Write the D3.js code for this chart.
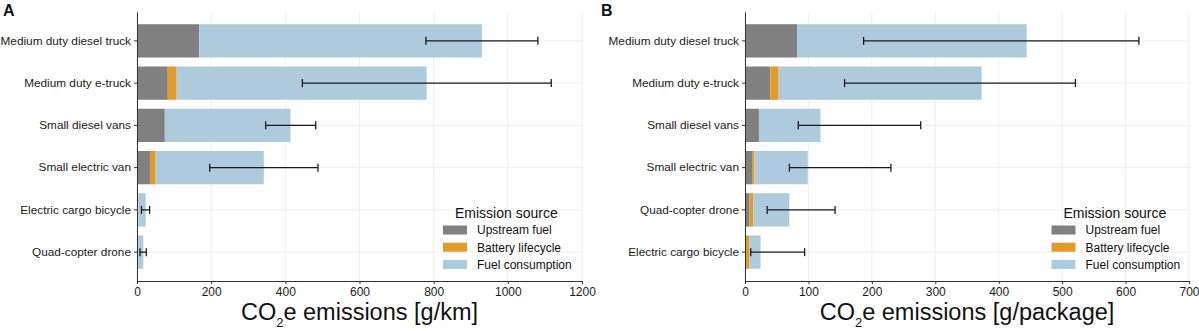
<!DOCTYPE html>
<html>
<head>
<meta charset="utf-8">
<script src="https://cdn.jsdelivr.net/npm/d3@7/dist/d3.min.js"></script>
<style>
  html, body { margin: 0; padding: 0; background: #fff; }
  svg { display: block; font-family: "Liberation Sans", Arial, Helvetica, sans-serif; }
</style>
</head>
<body>
<svg id="chart" width="1199" height="331"></svg>
<script>
// ---- Data ----
const seriesNames = ["Upstream fuel", "Battery lifecycle", "Fuel consumption"];
const seriesColors = ["#808080", "#E29B27", "#AECBDD"];

// Panel A: g/km
const categoriesA = ["Medium duty diesel truck", "Medium duty e-truck", "Small diesel vans",
                     "Small electric van", "Electric cargo bicycle", "Quad-copter drone"];
const upstreamA = [168, 83, 75, 35, 0.5, 0.5];
const batteryA  = [0, 24, 0, 15, 3, 0.5];
const fuelA     = [762, 674, 339, 292, 20, 16];
const errLowA   = [779, 446, 347, 196, 12, 8];
const errHighA  = [1081, 1117, 482, 488, 34, 25];
const ticksA    = [0, 200, 400, 600, 800, 1000, 1200];

// Panel B: g/package
const categoriesB = ["Medium duty diesel truck", "Medium duty e-truck", "Small diesel vans",
                     "Small electric van", "Quad-copter drone", "Electric cargo bicycle"];
const upstreamB = [82, 40, 22, 11, 7, 1.5];
const batteryB  = [0, 13, 0, 4, 6, 5];
const fuelB     = [362, 320, 97, 84, 57, 18];
const errLowB   = [187, 157, 84, 70, 35, 9];
const errHighB  = [621, 521, 277, 230, 142, 94];
const ticksB    = [0, 100, 200, 300, 400, 500, 600, 700];

const svg = d3.select("#chart");

function drawPanel(opts) {
  const { label, labelX, categories, up, bat, fuel, lo, hi, ticks, xMax,
          x0, x1, unit, legendX } = opts;
  const top = 12, bottom = 281;
  const g = svg.append("g");

  const x = d3.scaleLinear().domain([0, xMax]).range([x0, x1]);
  const y = d3.scaleBand().domain(categories).range([top, bottom])
              .paddingInner(0.212).paddingOuter(0.289);

  // gridlines
  g.append("g").selectAll("line.vg").data(ticks).join("line")
    .attr("x1", d => x(d)).attr("x2", d => x(d))
    .attr("y1", top).attr("y2", bottom)
    .attr("stroke", "#ebebeb").attr("stroke-width", 0.8);
  g.append("g").selectAll("line.hg").data(categories).join("line")
    .attr("x1", x0).attr("x2", x1 + 1)
    .attr("y1", d => y(d) + y.bandwidth() / 2).attr("y2", d => y(d) + y.bandwidth() / 2)
    .attr("stroke", "#ebebeb").attr("stroke-width", 0.8);

  // stacked data
  const rows = categories.map((c, i) => ({ cat: c, up: up[i], bat: bat[i], fuel: fuel[i] }));
  const stack = d3.stack().keys(["up", "bat", "fuel"])(rows);
  stack.forEach((layer, li) => {
    g.append("g").selectAll("rect").data(layer).join("rect")
      .attr("x", d => x(d[0]))
      .attr("width", d => Math.max(0, x(d[1]) - x(d[0])))
      .attr("y", d => y(d.data.cat))
      .attr("height", y.bandwidth())
      .attr("fill", seriesColors[li]);
  });

  // error bars
  const eb = g.append("g").attr("stroke", "#1a1a1a").attr("stroke-width", 1.3);
  categories.forEach((c, i) => {
    const cy = y(c) + y.bandwidth() / 2;
    eb.append("line").attr("x1", x(lo[i])).attr("x2", x(hi[i])).attr("y1", cy).attr("y2", cy);
    eb.append("line").attr("x1", x(lo[i])).attr("x2", x(lo[i])).attr("y1", cy - 4).attr("y2", cy + 4);
    eb.append("line").attr("x1", x(hi[i])).attr("x2", x(hi[i])).attr("y1", cy - 4).attr("y2", cy + 4);
  });

  // x axis
  const xa = g.append("g").attr("transform", `translate(0,${bottom})`)
    .call(d3.axisBottom(x).tickValues(ticks).tickFormat(d3.format("d"))
      .tickSize(3).tickPadding(3).tickSizeOuter(0));
  xa.select(".domain").attr("stroke", "#333").attr("stroke-width", 1);
  xa.selectAll(".tick line").attr("stroke", "#333");
  xa.selectAll(".tick text").attr("fill", "#1a1a1a").style("font-size", "12px")
    .style("font-family", "'Liberation Sans', Arial, sans-serif");

  // y axis
  const ya = g.append("g").attr("transform", `translate(${x0},0)`)
    .call(d3.axisLeft(y).tickSize(3).tickPadding(3).tickSizeOuter(0));
  ya.select(".domain").attr("stroke", "#333").attr("stroke-width", 1);
  ya.selectAll(".tick line").attr("stroke", "#333");
  ya.selectAll(".tick text").attr("fill", "#1a1a1a").style("font-size", "11.8px")
    .style("font-family", "'Liberation Sans', Arial, sans-serif");

  // axis title
  const t = g.append("text").attr("x", (x0 + x1) / 2).attr("y", 320)
    .attr("text-anchor", "middle").attr("fill", "#111").style("font-size", "23.5px");
  t.append("tspan").text("CO");
  t.append("tspan").attr("dy", 7).style("font-size", "13px").text("2");
  t.append("tspan").attr("dy", -7).text("e emissions " + unit);

  // panel label
  svg.append("text").attr("x", labelX).attr("y", 16)
    .style("font-size", "16px").style("font-weight", "bold").attr("fill", "#111").text(label);

  // legend
  const lg = g.append("g");
  lg.append("text").attr("x", legendX + 12).attr("y", 218)
    .style("font-size", "14px").attr("fill", "#111").text("Emission source");
  seriesNames.forEach((s, i) => {
    const cy = 230 + i * 17.2;
    lg.append("rect").attr("x", legendX).attr("y", cy - 4.5).attr("width", 24).attr("height", 9)
      .attr("fill", seriesColors[i]);
    lg.append("text").attr("x", legendX + 34).attr("y", cy + 4.3)
      .style("font-size", "12px").attr("fill", "#111").text(s);
  });
}

drawPanel({ label: "A", labelX: 3, categories: categoriesA, up: upstreamA, bat: batteryA,
  fuel: fuelA, lo: errLowA, hi: errHighA, ticks: ticksA, xMax: 1200,
  x0: 137, x1: 582, unit: "[g/km]", legendX: 443 });

drawPanel({ label: "B", labelX: 601, categories: categoriesB, up: upstreamB, bat: batteryB,
  fuel: fuelB, lo: errLowB, hi: errHighB, ticks: ticksB, xMax: 700,
  x0: 745, x1: 1189, unit: "[g/package]", legendX: 1051.5 });
</script>
</body>
</html>
